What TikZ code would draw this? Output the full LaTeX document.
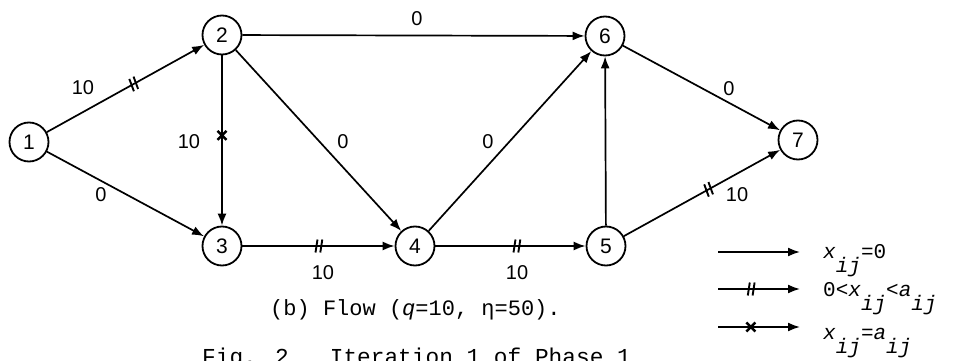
\documentclass[tikz,border=0pt]{standalone}
\usepackage{fontspec}
\setmainfont{Liberation Sans}
\newfontfamily\monof{Liberation Mono}
\usetikzlibrary{arrows.meta,decorations.markings}
\newcommand{\subij}{\raisebox{-14pt}{\itshape ij}}
\begin{document}
\begin{tikzpicture}[x=1pt,y=-1pt,
  vert/.style={circle,draw,line width=1.8pt,minimum size=39pt,inner sep=0pt,font=\fontsize{21}{23}\selectfont},
  edge/.style={line width=1.7pt,-{Latex[length=12pt,width=9pt]}},
  lab/.style={font=\fontsize{20}{22}\selectfont,inner sep=0pt},
  leg/.style={anchor=base west,inner sep=0pt,font=\monof\fontsize{21}{23}\selectfont},
  dblm/.style={postaction={decorate},decoration={markings,mark=at position #1 with {\draw[line width=1.9pt,-] (-3pt,-6.5pt)--(-1pt,6.5pt) (1.8pt,-6.5pt)--(3.8pt,6.5pt);}}},
  crossm/.style={postaction={decorate},decoration={markings,mark=at position #1 with {\draw[line width=2.4pt,-] (-4.5pt,-4.5pt)--(4.5pt,4.5pt) (-4.5pt,4.5pt)--(4.5pt,-4.5pt);}}},
]
\useasboundingbox (0,0) rectangle (954,361);

\node[vert] (n1) at (29,142) {1};
\node[vert] (n2) at (222,35) {2};
\node[vert] (n3) at (222,246) {3};
\node[vert] (n4) at (415,246) {4};
\node[vert] (n5) at (606,246) {5};
\node[vert] (n6) at (605,36) {6};
\node[vert] (n7) at (798,140) {7};

\draw[edge,dblm=0.55] (n1) -- (n2);
\draw[edge] (n1) -- (n3);
\draw[edge,crossm=0.47] (n2) -- (n3);
\draw[edge] (n2) -- (n6);
\draw[edge] (n2) -- (n4);
\draw[edge,dblm=0.5] (n3) -- (n4);
\draw[edge,dblm=0.54] (n4) -- (n5);
\draw[edge] (n4) -- (n6);
\draw[edge] (n5) -- (n6);
\draw[edge] (n6) -- (n7);
\draw[edge,dblm=0.54] (n5) -- (n7);

\node[lab] (e12) at (83,88) {10};
\node[lab] (e13) at (101,195) {0};
\node[lab] (e23) at (189,142) {10};
\node[lab] (e26) at (417,19) {0};
\node[lab] (e24) at (343,142) {0};
\node[lab] (e34) at (323,273) {10};
\node[lab] (e45) at (517,273) {10};
\node[lab] (e46) at (488,142) {0};
\node[lab] (e67) at (729,89) {0};
\node[lab] (e57) at (737,195) {10};

\node[anchor=base west,inner sep=0pt,font=\monof\fontsize{22}{24}\selectfont] (cap) at (270,315) {(b) Flow ({\itshape q}=10, η=50).};
\node[anchor=base west,inner sep=0pt,font=\monof\fontsize{22.8}{24}\selectfont] (fig) at (202,364) {Fig. 2\hspace{41pt}Iteration 1 of Phase 1};

\coordinate (la1) at (718,252); \coordinate (lb1) at (800,252);
\coordinate (la2) at (718,289); \coordinate (lb2) at (800,289);
\coordinate (la3) at (718,327); \coordinate (lb3) at (800,327);
\draw[edge] (la1) -- (lb1);
\draw[edge,dblm=0.4] (la2) -- (lb2);
\draw[edge,crossm=0.4] (la3) -- (lb3);
\node[leg] (t1) at (823,258) {{\itshape x}\subij=0};
\node[leg] (t2) at (823,296) {0<{\itshape x}\subij<{\itshape a}\subij};
\node[leg] (t3) at (823,339) {{\itshape x}\subij={\itshape a}\subij};
\end{tikzpicture}
\end{document}
